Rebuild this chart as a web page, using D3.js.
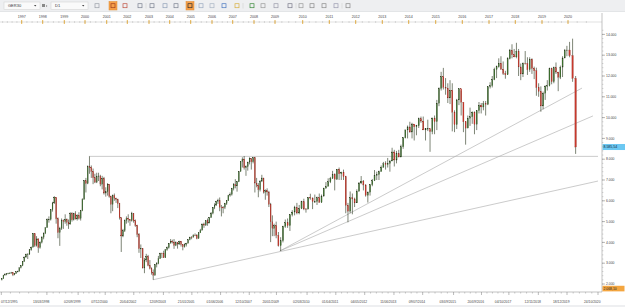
<!DOCTYPE html>
<html><head><meta charset="utf-8">
<script src="https://cdn.jsdelivr.net/npm/d3@7"></script>
<style>
body{margin:0;background:#fff;overflow:hidden}
text{font-family:"Liberation Sans",Arial,sans-serif}
</style>
</head><body><div id="chart"></div><script>
// GER30 D1 - recreated
var w = 625, h = 307;

var symbol = "GER30", period = "D1";
var firstMonth = "1995-12";
// monthly closes Dec 1995 .. Mar 2020
var closes = [2254,
2431,2462,2486,2524,2525,2547,2438,2503,2590,2609,2785,2889,
3090,3297,3429,3438,3640,3770,4438,3847,4168,3753,4005,4250,
4441,4710,5100,5108,5568,5897,6172,5134,4474,4671,5066,5002,
5105,4962,4884,5393,5082,5378,5127,5303,5150,5525,6076,6958,
6835,7644,7599,7414,7109,6898,7190,7194,6798,7077,6372,6434,
6795,6208,5830,6265,6123,6058,5861,5188,4308,4559,5040,5160,
5108,5039,5397,5041,4818,4383,3700,3712,2769,3153,3320,2893,
2748,2547,2424,2942,2983,3221,3487,3485,3257,3656,3746,3965,
4058,4018,3856,3985,3921,4052,3895,3785,3893,3960,4126,4256,
4254,4350,4349,4185,4460,4586,4886,4829,5044,4929,5193,5408,
5674,5796,5970,6009,5692,5683,5682,5860,6004,6268,6309,6597,
6789,6716,6917,7409,7883,8007,7584,7638,7862,8020,7871,8067,
6851,6748,6535,6949,7097,6418,6479,6422,5831,4988,4669,4810,
4338,3843,4085,4769,4941,4809,5332,5458,5675,5415,5625,5957,
5608,5598,6154,6136,5964,5966,6148,5925,6229,6601,6688,6914,
7077,7272,7041,7514,7294,7376,7159,5785,5502,6141,6089,5898,
6458,6856,6947,6761,6264,6416,6772,6970,7216,7261,7405,7612,
7776,7742,7795,7914,8349,7959,8276,8104,8594,9033,9406,9552,
9306,9692,9556,9603,9943,9833,9407,9470,9474,9327,9981,9806,
10694,11402,11966,11454,11414,10945,11309,10259,9660,10850,11382,10743,
9798,9495,9966,10039,10263,9680,10337,10593,10511,10665,10640,11481,
11535,11834,12313,12438,12615,12325,12118,12056,12829,13230,13024,12918,
13189,12436,12097,12612,12605,12306,12806,12364,12247,11448,11257,10559,
11173,11516,11526,12344,11727,12399,12189,11939,12428,12867,13236,13249,
12982,11890,8585.54];
var highs = [2270,
2440,2520,2500,2540,2560,2580,2550,2520,2600,2640,2800,2900,
3100,3320,3460,3480,3660,3800,4440,4400,4300,4200,4050,4300,
4480,4730,5150,5250,5600,5950,6220,6150,5200,4750,5150,5100,
5350,5150,5100,5450,5450,5420,5500,5350,5450,5560,6120,7000,
7100,7700,8136,7700,7550,7300,7350,7350,7250,7200,7150,6650,
6850,6800,6250,6300,6350,6150,6100,5900,5200,4650,5100,5250,
5350,5100,5470,5400,5100,4850,4450,3900,3700,3250,3450,3400,
3150,2800,2700,2950,3050,3350,3500,3500,3600,3680,3800,3970,
4160,4130,4160,4050,3980,4080,4070,3900,3950,3980,4150,4270,
4300,4390,4430,4400,4470,4650,4900,4950,5050,5150,5220,5460,
5700,5880,6000,6100,6160,5800,5750,5900,6030,6290,6400,6620,
6850,7040,6950,7420,7900,8090,8151,7700,7880,8090,8050,8100,
8100,7100,6850,6990,7250,7100,6550,6600,6480,5900,5300,4900,
5000,4500,4250,4800,5100,5150,5350,5550,5760,5900,5800,6000,
6100,5650,6170,6340,6160,6300,6200,6350,6300,6630,6900,7080,
7150,7440,7320,7530,7600,7400,7500,7200,5900,6450,6350,6150,
6550,6900,7190,7000,6800,6450,6800,7050,7480,7400,7450,7700,
7870,7900,8060,7950,8550,8450,8400,8450,8700,9050,9420,9620,
9800,9750,9650,9650,10000,10050,10050,9500,9900,9400,10000,10100,
10850,11450,12200,12390,11900,11650,11800,11650,10350,10900,11400,11300,
10500,9800,10100,10480,10300,10300,10350,10750,10700,10800,10800,11500,
11700,12000,12400,12500,12850,12950,12700,12250,12900,13300,13525,13300,
13597,13300,12600,12650,13200,12900,12900,12850,12450,12400,11650,11500,
11250,11550,11800,12400,12400,12450,12650,12200,12500,12950,13300,13450,
13640,13795,12000];
var lows = [2170,
2250,2400,2420,2470,2480,2500,2380,2420,2490,2560,2600,2750,
2860,3060,3260,3200,3400,3600,3760,3780,3800,3500,3700,3950,
4150,4400,4700,4950,5050,5480,5850,4900,4200,3833,4600,4650,
4900,4800,4650,4850,5000,5050,5100,5050,5100,5050,5500,6050,
6400,6800,7300,7100,6800,6850,6850,6950,6700,6550,6300,6200,
6250,6150,5400,5500,6000,5900,5650,5100,3540,4250,4500,4900,
4950,4800,5000,4950,4750,4250,3500,3250,2750,2520,3050,2850,
2700,2450,2203,2400,2800,2950,3200,3250,3250,3250,3600,3700,
3950,3950,3690,3820,3700,3880,3800,3620,3750,3800,3950,4100,
4150,4230,4300,4150,4180,4450,4580,4700,4800,4800,4920,5180,
5350,5600,5750,5850,5500,5250,5400,5600,5800,5990,6200,6250,
6500,6600,6440,6900,7400,7600,7500,7200,7450,7750,7500,7800,
6400,6650,6170,6450,6900,6350,6050,6250,5700,4014,4300,4300,
4200,3800,3588,4000,4700,4700,4550,5250,5300,5350,5350,5600,
5550,5430,5600,6050,5600,5900,5800,5900,5900,6200,6600,6700,
6850,7050,6500,7000,7000,7000,7000,5400,4966,5400,5350,5700,
5900,6450,6800,6500,6200,5915,6250,6700,6950,7000,7000,7400,
7600,7500,7600,7400,7900,7650,7800,8100,8100,8500,9000,9000,
9280,9000,8900,9150,9500,9750,9400,8900,9350,8355,9200,9200,
9400,10550,11300,11350,11100,10700,10650,9338,9300,9450,10600,10100,
9300,8699,9500,9600,9700,9200,9400,10200,10200,10350,10100,10600,
11400,11450,11800,11900,12400,12300,12050,11870,12050,12800,12850,12900,
12850,12000,11800,11950,12550,12050,12200,12100,11850,11050,11000,10280,
10400,10850,11300,11500,11600,11650,12100,11270,11850,11950,12850,12950,
12900,11720,8255];
var firstOpen = 2200;

var priceTicks = [2000,3000,4000,5000,6000,7000,8000,9000,10000,11000,12000,13000,14000];
var yearTicks = ["1997","1998","1999","2000","2001","2002","2003","2004","2005","2006","2007","2008",
  "2009","2010","2011","2012","2013","2014","2015","2016","2017","2018","2019","2020"];
var dateLabels = ["1995-12-07","1998-03-13","1999-09-02","2000-12-07","2002-04-20","2003-09-12","2005-01-21",
  "2006-06-01","2007-10-12","2009-01-20","2010-03-02","2011-04-01","2012-05-04","2013-06-11","2014-07-09",
  "2015-09-03","2016-09-20","2017-10-04","2018-11-12","2019-12-18","2020-10-24"];

// trend lines [date, price] -> [date, price]
var trendLines = [
  [["2000-03-07", 8136], ["2020-10-24", 8136]],
  [["2003-03-12", 2203], ["2020-10-24", 6950]],
  [["2009-03-06", 3588], ["2020-05-19", 11420]],
  [["2009-03-06", 3588], ["2020-09-04", 10080]]
];
var bidPrice = 8585.54, lowMark = 1780, lowMarkText = "2.068,10";

var locale = d3.formatLocale({decimal: ",", thousands: ".", grouping: [3], currency: ["", ""]});
var fmtInt = locale.format(",d"), fmtPrice = locale.format(",.2f");
var parse = d3.timeParse("%Y-%m-%d"), fmtDate = d3.timeFormat("%d/%m/%Y");

// bar-index based time axis (terminal compresses the gaps), piecewise scale
var x = d3.scaleTime()
  .domain([parse("1995-12-01")].concat(yearTicks.map(function(y){ return parse(y + "-01-01"); }), [parse("2020-10-24")]))
  .range([1, 21.7, 42.7, 64.3, 85, 106.7, 127.3, 149, 169.7, 190.7, 212, 232.7, 254, 275,
          302.7, 329.3, 355.7, 382.3, 408.7, 435.7, 462.3, 489, 515.3, 542, 568, 598]);
var y = d3.scaleLinear().domain([2000, 14000]).range([284, 34.4]);

var plotL = 0, plotR = 602, plotT = 23, plotB = 292;

var svg = d3.select("#chart").append("svg").attr("width", w).attr("height", h);
svg.append("rect").attr("width", w).attr("height", h).attr("fill", "#fff");

// toolbar
var tb = svg.append("g");
tb.append("rect").attr("width", w).attr("height", 11.5).attr("fill", "#eeeff1");
tb.append("line").attr("x1", 0).attr("x2", w).attr("y1", 11.5).attr("y2", 11.5).attr("stroke", "#d6d8dc").attr("stroke-width", 0.6);
[[4, 36, symbol], [51, 37, period]].forEach(function(c) {
  tb.append("rect").attr("x", c[0]).attr("y", 2).attr("width", c[1]).attr("height", 7.5)
    .attr("fill", "#fafafa").attr("stroke", "#d0d0d0").attr("stroke-width", 0.5);
  tb.append("text").attr("x", c[0] + 4).attr("y", 7.2).attr("font-size", 4).attr("fill", "#333").text(c[2]);
  tb.append("path").attr("d", "M" + (c[0] + c[1] - 6) + ",5 l2.4,0 l-1.2,1.5z").attr("fill", "#444");
});
tb.append("path").attr("d", "M42,4 l3,0 l0,3 l-3,0z M46,5 l1.5,1 l-1.5,1z").attr("fill", "#888");
var icons = [97, 113, 125, 140, 152, 165, 176, 190, 201, 212, 224, 237, 252, 263, 276, 290, 301, 312, 324, 336, 348];
icons.forEach(function(ix, i) {
  if (ix == 113 || ix == 190) {
    tb.append("rect").attr("x", ix - 4).attr("y", 1.5).attr("width", 8).attr("height", 8.5).attr("fill", "#f6a04a").attr("stroke", "#e08a30").attr("stroke-width", 0.5);
  }
  var col = ["#9a9fa8", "#a04020", "#c05040", "#7a8090", "#7a8090", "#90a0b8", "#7a8090", "#303030", "#9aaac0",
             "#a9b4c4", "#4a78c0", "#d8b040", "#3a8a3a", "#9a9a9a", "#9a9aaa", "#7a7a8a", "#9a9a9a", "#8a8a8a",
             "#8a8a8a", "#9a9ab0", "#8a8a8a"][i];
  tb.append("rect").attr("x", ix - 2).attr("y", 3.7).attr("width", 4).attr("height", 4)
    .attr("fill", "none").attr("stroke", col).attr("stroke-width", 0.7);
  if (i % 4 == 3) tb.append("line").attr("x1", ix + 6).attr("x2", ix + 6).attr("y1", 3).attr("y2", 8.5).attr("stroke", "#c8c8c8").attr("stroke-width", 0.5);
});

// top year scale
var topAx = svg.append("g");
topAx.selectAll("text").data(yearTicks).enter().append("text")
  .attr("x", function(d){ return x(parse(d + "-01-01")); }).attr("y", 17.5)
  .attr("text-anchor", "middle").attr("font-size", 3.6).attr("fill", "#444").text(function(d){ return d; });
topAx.append("line").attr("x1", 0).attr("x2", plotR).attr("y1", 22).attr("y2", 22).attr("stroke", "#b0b0b0").attr("stroke-width", 0.4);
var quarters = d3.timeMonth.every(3).range(parse("1996-01-01"), parse("2020-10-01"));
topAx.selectAll("line.q").data(quarters).enter().append("line").attr("class", "q")
  .attr("x1", function(d){ return x(d); }).attr("x2", function(d){ return x(d); })
  .attr("y1", 21.2).attr("y2", 22.8).attr("stroke", "#999").attr("stroke-width", 0.4);
topAx.selectAll("line.yr").data(yearTicks).enter().append("line").attr("class", "yr")
  .attr("x1", function(d){ return x(parse(d + "-01-01")); }).attr("x2", function(d){ return x(parse(d + "-01-01")); })
  .attr("y1", 20).attr("y2", 24).attr("stroke", "#e0a020").attr("stroke-width", 0.8);

// right price axis
var ax = svg.append("g");
ax.append("line").attr("x1", plotR).attr("x2", plotR).attr("y1", 13).attr("y2", plotB).attr("stroke", "#9a9a9a").attr("stroke-width", 0.6);
ax.selectAll("line.minor").data(d3.range(1800, 14400, 200)).enter().append("line").attr("class", "minor")
  .attr("x1", plotR).attr("x2", plotR + 1.4).attr("y1", function(d){ return y(d); }).attr("y2", function(d){ return y(d); })
  .attr("stroke", "#999").attr("stroke-width", 0.4);
ax.selectAll("line.major").data(priceTicks).enter().append("line").attr("class", "major")
  .attr("x1", plotR).attr("x2", plotR + 3).attr("y1", function(d){ return y(d); }).attr("y2", function(d){ return y(d); })
  .attr("stroke", "#777").attr("stroke-width", 0.5);
ax.selectAll("text").data(priceTicks).enter().append("text")
  .attr("x", plotR + 4).attr("y", function(d){ return y(d) + 1.2; })
  .attr("font-size", 3.4).attr("fill", "#444").text(function(d){ return fmtInt(d); });

// bottom date axis
var bx = svg.append("g");
bx.append("line").attr("x1", 0).attr("x2", plotR).attr("y1", plotB).attr("y2", plotB).attr("stroke", "#9a9a9a").attr("stroke-width", 0.6);
var dates = dateLabels.map(parse);
var minorDates = [];
for (var i = 0; i < dates.length - 1; i++) {
  var a = x(dates[i]), b = x(dates[i + 1]);
  for (var k = 1; k < 5; k++) minorDates.push(x.invert(a + (b - a) * k / 5));
}
bx.selectAll("line.mn").data(minorDates).enter().append("line").attr("class", "mn")
  .attr("x1", function(d){ return x(d); }).attr("x2", function(d){ return x(d); })
  .attr("y1", plotB).attr("y2", plotB + 1.6).attr("stroke", "#888").attr("stroke-width", 0.4);
bx.selectAll("line.mj").data(dates).enter().append("line").attr("class", "mj")
  .attr("x1", function(d){ return x(d); }).attr("x2", function(d){ return x(d); })
  .attr("y1", plotB).attr("y2", plotB + 3).attr("stroke", "#777").attr("stroke-width", 0.5);
bx.selectAll("text").data(dates).enter().append("text")
  .attr("x", function(d, i){ return i == 0 ? 1 : x(d) + 2.5; })
  .attr("text-anchor", function(d, i){ return i == 0 ? "start" : "end"; })
  .attr("y", 302.5).attr("font-size", 3.3).attr("fill", "#444").text(function(d){ return fmtDate(d); });
svg.append("rect").attr("x", 0).attr("y", 305).attr("width", w).attr("height", 2).attr("fill", "#eeeff1");

// candles
var bars = closes.map(function(c, i) {
  var d = d3.timeMonth.offset(parse(firstMonth + "-01"), i);
  return {date: d, open: i == 0 ? firstOpen : closes[i - 1], close: c, high: highs[i], low: lows[i]};
});
var plot = svg.append("g");
plot.append("clipPath").attr("id", "clip").append("rect")
  .attr("x", plotL).attr("y", plotT).attr("width", plotR - plotL).attr("height", plotB - plotT);
var cg = plot.append("g").attr("clip-path", "url(#clip)");

cg.selectAll("line.tl").data(trendLines).enter().append("line").attr("class", "tl")
  .attr("x1", function(d){ return x(parse(d[0][0])); }).attr("y1", function(d){ return y(d[0][1]); })
  .attr("x2", function(d){ return x(parse(d[1][0])); }).attr("y2", function(d){ return y(d[1][1]); })
  .attr("stroke", "#a8a8a8").attr("stroke-width", 0.6);

function mid(d) {
  var n = d3.timeMonth.offset(d.date, 1);
  return (x(d.date) + x(n)) / 2;
}
function bw(d) {
  return Math.max(0.7, (x(d3.timeMonth.offset(d.date, 1)) - x(d.date)) * 0.5);
}
cg.selectAll("line.wick").data(bars).enter().append("line").attr("class", "wick")
  .attr("x1", mid).attr("x2", mid)
  .attr("y1", function(d){ return y(d.high); }).attr("y2", function(d){ return y(d.low); })
  .attr("stroke", "#26331a").attr("stroke-width", 0.6);
cg.selectAll("rect.body").data(bars).enter().append("rect").attr("class", "body")
  .attr("x", function(d){ return mid(d) - bw(d) / 2; }).attr("width", bw)
  .attr("y", function(d){ return y(Math.max(d.open, d.close)); })
  .attr("height", function(d){ return Math.max(0.6, Math.abs(y(d.open) - y(d.close))); })
  .attr("fill", function(d){ return d.close >= d.open ? "#3f7530" : "#c8382c"; })
  .attr("stroke", function(d){ return d.close >= d.open ? "#26331a" : "#8a2a22"; }).attr("stroke-width", 0.2);

// price labels on the axis
svg.append("rect").attr("x", plotR + 0.5).attr("y", y(bidPrice) - 3).attr("width", 22.5).attr("height", 6)
  .attr("fill", "#6cc8f2");
svg.append("text").attr("x", plotR + 1.5).attr("y", y(bidPrice) + 1.3).attr("font-size", 3.5).attr("fill", "#123")
  .text(fmtPrice(bidPrice));
svg.append("rect").attr("x", plotR + 0.5).attr("y", y(lowMark) - 2.8).attr("width", 22).attr("height", 5.6)
  .attr("fill", "#f4a640");
svg.append("text").attr("x", plotR + 1.5).attr("y", y(lowMark) + 1.3).attr("font-size", 3.4).attr("fill", "#222")
  .text(lowMarkText);
</script></body></html>
